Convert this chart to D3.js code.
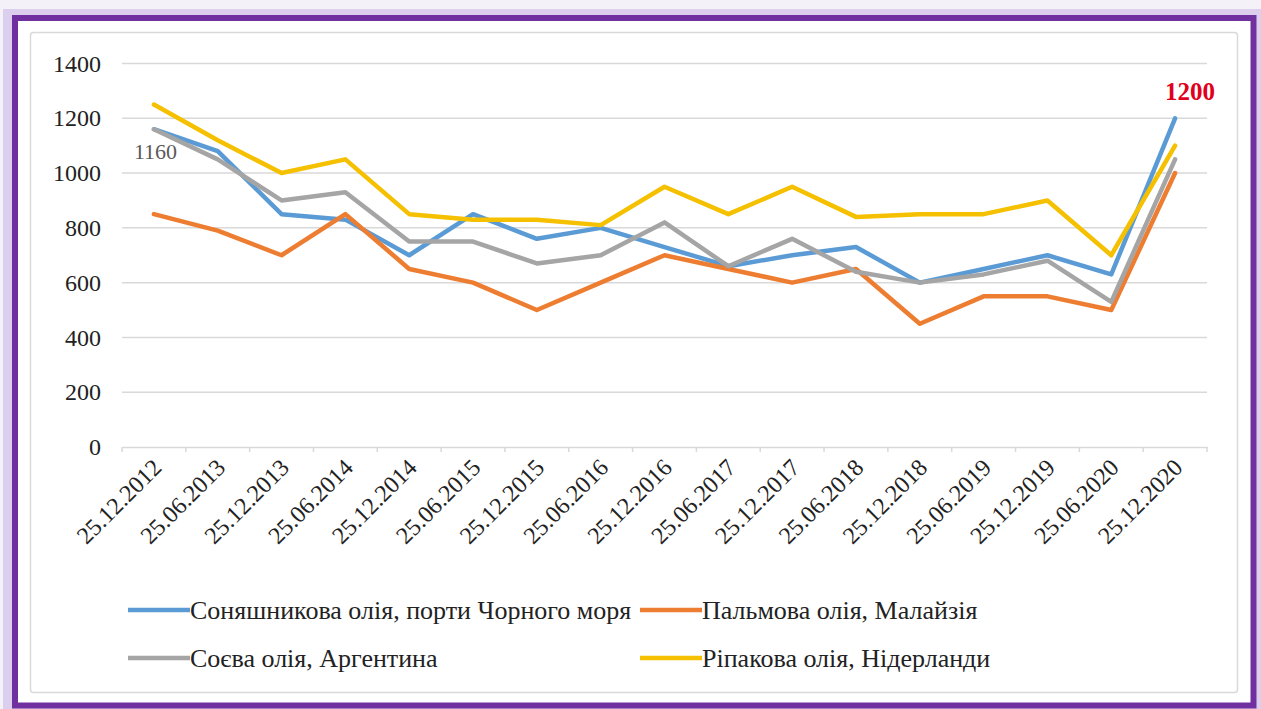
<!DOCTYPE html>
<html>
<head>
<meta charset="utf-8">
<script src="https://cdn.jsdelivr.net/npm/d3@7"></script>
<style>
  body { margin: 0; background: #f4f1f8; }
  svg { display: block; }
</style>
</head>
<body>
<svg id="chart" width="1261" height="709"></svg>
<script>
const dates = ['25.12.2012', '25.06.2013', '25.12.2013', '25.06.2014', '25.12.2014', '25.06.2015',
  '25.12.2015', '25.06.2016', '25.12.2016', '25.06.2017', '25.12.2017', '25.06.2018',
  '25.12.2018', '25.06.2019', '25.12.2019', '25.06.2020', '25.12.2020'];

const sunflower = [1160, 1080, 850, 830, 700, 850, 760, 800, 730, 660, 700, 730, 600, 650, 700, 630, 1200];
const palm      = [850, 790, 700, 850, 650, 600, 500, 600, 700, 650, 600, 650, 450, 550, 550, 500, 1000];
const soy       = [1160, 1050, 900, 930, 750, 750, 670, 700, 820, 660, 760, 640, 600, 630, 680, 530, 1050];
const rapeseed  = [1250, 1120, 1000, 1050, 850, 830, 830, 810, 950, 850, 950, 840, 850, 850, 900, 700, 1100];

const seriesNames = ['Соняшникова олія, порти Чорного моря', 'Пальмова олія, Малайзія',
  'Соєва олія, Аргентина', 'Ріпакова олія, Нідерланди'];
const yTicks = [0, 200, 400, 600, 800, 1000, 1200, 1400];

const series = [
  { name: seriesNames[0], values: sunflower, color: '#5b9bd5' },
  { name: seriesNames[1], values: palm, color: '#ed7d31' },
  { name: seriesNames[2], values: soy, color: '#a5a5a5' },
  { name: seriesNames[3], values: rapeseed, color: '#f5c000' }
];

const FONT = 'Liberation Serif';
const svg = d3.select('#chart');

// frame: lavender halo, purple border, grey chart box
svg.append('rect').attr('x', 3).attr('y', 9).attr('width', 1258).attr('height', 700).attr('fill', '#dccfee');
svg.append('rect').attr('x', 15).attr('y', 18).attr('width', 1238.5).attr('height', 687.5)
  .attr('fill', '#fff').attr('stroke', '#7030a0').attr('stroke-width', 6);
svg.append('rect').attr('x', 30.5).attr('y', 32.5).attr('width', 1207).attr('height', 660).attr('rx', 3)
  .attr('fill', '#fff').attr('stroke', '#d9d9d9').attr('stroke-width', 1.5);

const x = d3.scaleBand().domain(dates).range([122, 1207]);
const y = d3.scaleLinear().domain([0, 1400]).range([447, 63.5]);

// gridlines
svg.append('g').selectAll('line').data(yTicks.filter(d => d > 0)).join('line')
  .attr('x1', 122).attr('x2', 1207)
  .attr('y1', d => y(d)).attr('y2', d => y(d))
  .attr('stroke', '#d9d9d9').attr('stroke-width', 1.5);

// y axis labels
const yAxis = svg.append('g').attr('transform', 'translate(122,0)')
  .call(d3.axisLeft(y).tickValues(yTicks).tickFormat(d3.format('d')).tickSize(0).tickPadding(21));
yAxis.select('.domain').remove();
yAxis.attr('font-family', FONT).attr('font-size', 24);
yAxis.selectAll('text').attr('fill', '#222');

// x axis
const xAxis = svg.append('g').attr('transform', 'translate(0,447)')
  .call(d3.axisBottom(x).tickSize(0).tickPadding(0));
xAxis.attr('font-family', FONT).attr('font-size', 24);
xAxis.select('.domain').attr('stroke', '#d9d9d9').attr('stroke-width', 1.5);
const bounds = d3.range(dates.length + 1).map(i => 122 + i * x.step());
xAxis.selectAll('.bound').data(bounds).join('line').attr('class', 'bound')
  .attr('x1', d => d).attr('x2', d => d).attr('y1', 0).attr('y2', 5)
  .attr('stroke', '#d9d9d9').attr('stroke-width', 1.5);
xAxis.selectAll('.tick text')
  .attr('fill', '#222')
  .attr('text-anchor', 'end').attr('dy', 0)
  .attr('transform', 'translate(9,22) rotate(-45)');

// lines
const line = d3.line()
  .x((d, i) => x(dates[i]) + x.bandwidth() / 2)
  .y(d => y(d));
svg.append('g').selectAll('path').data(series).join('path')
  .attr('d', d => line(d.values))
  .attr('fill', 'none').attr('stroke', d => d.color)
  .attr('stroke-width', 4.5).attr('stroke-linejoin', 'round').attr('stroke-linecap', 'round');

// annotations
svg.append('text').attr('x', x(dates[0]) + x.bandwidth() / 2 - 20).attr('y', y(sunflower[0]) + 30)
  .attr('font-family', FONT).attr('font-size', 22).attr('fill', '#595959').text(sunflower[0]);
svg.append('text').attr('x', x(dates[16]) + x.bandwidth() / 2 + 15).attr('y', y(sunflower[16]) - 18)
  .attr('text-anchor', 'middle').attr('font-family', FONT).attr('font-size', 25).attr('font-weight', 'bold')
  .attr('fill', '#e0001b').text(sunflower[16]);

// legend
const legendPos = [[128, 610], [640, 610], [128, 658], [640, 658]];
const legend = svg.append('g').selectAll('g').data(series).join('g')
  .attr('transform', (d, i) => `translate(${legendPos[i][0]},${legendPos[i][1]})`);
legend.append('line').attr('x1', 0).attr('x2', 62).attr('y1', 0).attr('y2', 0)
  .attr('stroke', d => d.color).attr('stroke-width', 4.5);
legend.append('text').attr('x', 62).attr('y', 0).attr('dy', '0.35em')
  .attr('font-family', FONT).attr('font-size', 26).attr('fill', '#222')
  .text(d => d.name);
</script>
</body>
</html>
